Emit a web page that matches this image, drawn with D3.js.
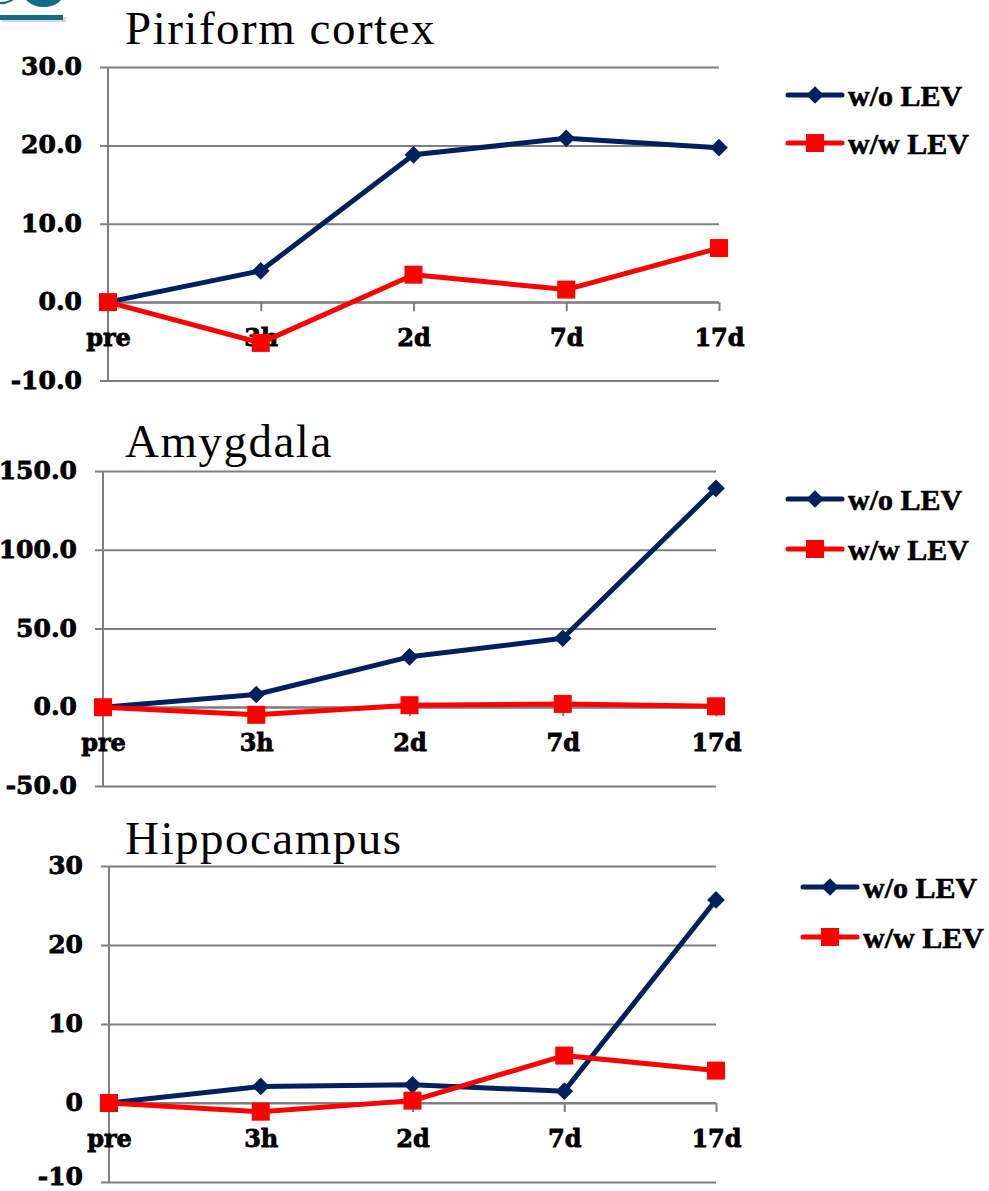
<!DOCTYPE html>
<html>
<head>
<meta charset="utf-8">
<script src="https://cdn.jsdelivr.net/npm/d3@7"></script>
<style>
  html, body { margin: 0; padding: 0; background: #ffffff; }
  svg { display: block; }
</style>
</head>
<body>
<svg id="chart" width="989" height="1191"></svg>
<script>
// Time points shared by all three regions
const timepoints = ["pre", "3h", "2d", "7d", "17d"];
const seriesNames = ["w/o LEV", "w/w LEV"];

// Piriform cortex
const piriformWithout = [0, 4.0, 18.8, 20.9, 19.7];
const piriformWith    = [0, -5.2, 3.5, 1.6, 6.9];
const piriformTicks   = [-10, 0, 10, 20, 30];

// Amygdala
const amygdalaWithout = [0, 8.1, 32.0, 43.8, 139.0];
const amygdalaWith    = [0, -4.8, 1.3, 2.1, 0.6];
const amygdalaTicks   = [-50, 0, 50, 100, 150];

// Hippocampus
const hippoWithout = [0, 2.1, 2.3, 1.5, 25.7];
const hippoWith    = [0, -1.1, 0.3, 6.0, 4.1];
const hippoTicks   = [-10, 0, 10, 20, 30];

// Plain hyphen for negative numbers
const oneDecimal = d => d.toFixed(1);
const integer = d => String(d);

const panels = [
  { title: "Piriform cortex", values: [piriformWithout, piriformWith], ticks: piriformTicks,
    fmt: oneDecimal, top: 67, bottom: 380.5, left: 108, right: 719,
    titleY: 44, legendX: 788, legendY: [95, 143] },
  { title: "Amygdala", values: [amygdalaWithout, amygdalaWith], ticks: amygdalaTicks,
    fmt: oneDecimal, top: 471, bottom: 786, left: 103, right: 716,
    titleY: 457, legendX: 788, legendY: [499, 549] },
  { title: "Hippocampus", values: [hippoWithout, hippoWith], ticks: hippoTicks,
    fmt: integer, top: 866, bottom: 1182, left: 109, right: 716,
    titleY: 854, legendX: 803, legendY: [887, 937] }
];

const colors = ["#002060", "#ff0000"];
const gridColor = "#7f7f7f";
const numFont = "'DejaVu Serif', serif";
const textFont = "'Liberation Serif', serif";

const svg = d3.select("#chart");

// Corner emblem
const logo = svg.append("g");
logo.append("rect").attr("x", 2).attr("y", 17).attr("width", 64).attr("height", 5)
  .attr("fill", "#c8c8c8").attr("opacity", 0.7);
logo.append("rect").attr("x", 0).attr("y", 15).attr("width", 63).attr("height", 5)
  .attr("fill", "#146b86");
logo.append("path").attr("d", "M0,4 Q6,5 14,0 L10,0 Q6,2 0,2 Z").attr("fill", "#146b86");
logo.append("path").attr("d", "M26,0 Q34,8 46,7 Q56,6 61,0 Z").attr("fill", "#146b86");

const diamond = d3.symbol().type(d3.symbolDiamond2).size(200);
const square = d3.symbol().type(d3.symbolSquare).size(324);

panels.forEach((p, pi) => {
  const g = svg.append("g");
  const x = d3.scalePoint().domain(timepoints).range([p.left, p.right]);
  const y = d3.scaleLinear().domain(d3.extent(p.ticks)).range([p.bottom, p.top]);
  const lastPanel = pi === panels.length - 1;

  // Title
  g.append("text").attr("x", 125).attr("y", p.titleY)
    .attr("font-family", textFont).attr("font-size", 47).attr("letter-spacing", 1.5)
    .attr("fill", "#000").text(p.title);

  // Horizontal gridlines and y tick labels
  const yAxis = d3.axisLeft(y).tickValues(p.ticks).tickSize(-(p.right - p.left) - 8)
    .tickPadding(18).tickFormat(p.fmt);
  const ya = g.append("g").attr("transform", `translate(${p.left - 8},0)`).call(yAxis);
  ya.select(".domain").remove();
  ya.selectAll(".tick line").attr("stroke", gridColor).attr("stroke-width", 2);
  ya.selectAll(".tick text").attr("font-family", numFont).attr("font-weight", "bold")
    .attr("font-size", 25).attr("fill", "#000").attr("stroke", "#000")
    .attr("stroke-width", 0.8)
    // the lowest label of the bottom panel sits against the page edge
    .attr("dy", (d, i) => (lastPanel && i === 0) ? "0.08em" : "0.3em");

  // Vertical value axis line
  g.append("line").attr("x1", p.left).attr("x2", p.left).attr("y1", p.top).attr("y2", p.bottom)
    .attr("stroke", gridColor).attr("stroke-width", 2);

  // Category axis at zero
  const xAxis = d3.axisBottom(x).tickSize(9).tickFormat(d => d).tickPadding(18);
  const xa = g.append("g").attr("transform", `translate(0,${y(0)})`).call(xAxis);
  xa.select(".domain").attr("stroke", gridColor).attr("stroke-width", 2)
    .attr("d", `M${p.left},0H${p.right}`);
  xa.selectAll(".tick line").attr("stroke", gridColor).attr("stroke-width", 2);
  xa.selectAll(".tick text").attr("font-family", numFont).attr("font-weight", "bold")
    .attr("font-size", 24).attr("fill", "#000").attr("stroke", "#000").attr("stroke-width", 0.8);

  // Series lines and markers
  const line = d3.line().x((d, i) => x(timepoints[i])).y(d => y(d));
  p.values.forEach((vals, s) => {
    g.append("path").datum(vals).attr("d", line).attr("fill", "none")
      .attr("stroke", colors[s]).attr("stroke-width", 5).attr("stroke-linejoin", "round");
    g.selectAll(null).data(vals).enter().append("path")
      .attr("transform", (d, i) => `translate(${x(timepoints[i])},${y(d)})`)
      .attr("d", s === 0 ? diamond : square).attr("fill", colors[s]);
  });

  // Legend
  seriesNames.forEach((name, s) => {
    const ly = p.legendY[s];
    g.append("line").attr("x1", p.legendX).attr("x2", p.legendX + 54)
      .attr("y1", ly).attr("y2", ly).attr("stroke", colors[s]).attr("stroke-width", 5)
      .attr("stroke-linecap", "round");
    g.append("path").attr("transform", `translate(${p.legendX + 27},${ly})`)
      .attr("d", s === 0 ? diamond : square).attr("fill", colors[s]);
    g.append("text").attr("x", p.legendX + 60).attr("y", ly).attr("dy", "0.35em")
      .attr("font-family", textFont).attr("font-weight", "bold").attr("font-size", 30)
      .attr("fill", "#000").attr("stroke", "#000").attr("stroke-width", 0.6).text(name);
  });
});
</script>
</body>
</html>
